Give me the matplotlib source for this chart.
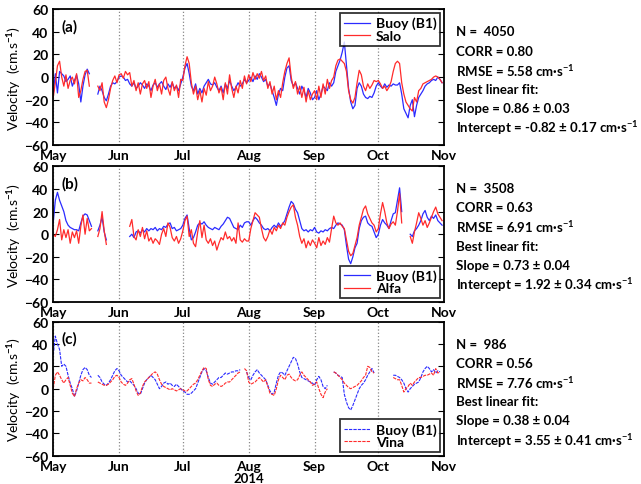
import numpy as np
import matplotlib
matplotlib.use("Agg")
import matplotlib.pyplot as plt
import matplotlib.dates as mdates

plt.rcParams['font.family'] = ['Lato', 'DejaVu Sans']
plt.rcParams['font.weight'] = 'bold'
plt.rcParams['mathtext.fontset'] = 'custom'
plt.rcParams['mathtext.rm'] = 'Lato:bold'
plt.rcParams['mathtext.it'] = 'Lato:bold'
plt.rcParams['mathtext.bf'] = 'Lato:bold'

n = np.nan

# daily velocities from 1 May to 1 Nov 2014 (cm/s), nan = no data
buoy_a = ([-15, 3, -14, 5, 3, 1, -4, -2, 1, -8, -3, 2, -6, -22, -8, 2, 7, 3]
          + [n, n, n]
          + [-15, -8, -12, -18, -21, -15, -8, -5, -6, -4, 0, 1, 0, -3, -2, -6, -8, -5, -10, -8,
             -5, -7, -10, -6, -8, -12, -7, -5, -9, -6, -4, -8, -11, -6, -9, -5, -10, -8, -12, -6]
          + [0, 8, 12, 3, -8, -12, -6, -15, -10, -14, -8, -5, -2, -6, -7, -5, -9, -12, -8, -14,
             -6, -10, -3, -8, -12, -9, -5, -8, -6, -2, -5]
          + [-3, 0, -4, 1, -2, 3, 0, -4, -2, -8, -6, -12, -18, -25, -15, -10, -12, 0, 8, 10,
             -3, -8, -5, -10, -15, -8, -12, -18, -10, -14, -20]
          + [-18, -12, -20, -15, -8, -10, -12, -5, -8, -5, 5, 10, 15, 22, 31, 10, -10, -22, -28, -25,
             -10, -5, -8, -15, -18, -19, -17, -18, -14, -8]
          + [-5, -8, -10, -6, -9, -7, -8, -6, -7, -7, -5, -15, -28, -32, -36, -25, -20, -35, -25, -18,
             -15, -12, -8, -6, -5, -3, -2, -3, 0, -2, -5])
salo = ([-18, -5, 10, 14, 0, -8, 2, -10, -3, 0, -6, 3, -18, -12, -2, 5, 6, -8]
        + [n, n, n]
        + [-8, -12, -5, -22, -27, -20, -10, -3, 1, -5, 2, 3, -1, 5, 2, 4, -8, -3, -12, -5,
           -15, -6, -3, -10, -4, -18, -8, -2, -12, -6, -15, -3, 0, -10, -16, -4, -12, -7, -18, -2]
        + [-3, 10, 18, 12, -5, -15, -8, -20, -12, -22, -10, -16, -4, -12, -8, 0, -6, -14, -9, -20,
           -5, -15, 2, -10, -18, -8, -14, -3, -10, 1, -6]
        + [2, -4, 4, -2, 3, -1, 5, -3, 1, -10, -4, -15, -8, -20, -12, -18, -5, 5, 12, 17,
           0, -10, -4, -15, -8, -18, -9, -22, -12, -20, -15]
        + [-12, -20, -8, -18, -6, -15, -2, -10, -3, 0, 10, 15, 16, 14, 12, 5, -12, -20, -23, -18,
           -5, 6, 2, -8, -12, -6, -10, -7, -3, -4]
        + [-3, -6, -10, -8, -12, -9, -4, 5, 12, 14, 12, -5, -15, -22, -25, -28, -30, -18, -22, -12,
           -10, -6, -5, -4, -3, -2, 0, 1, 0, -2, -5])

buoy_b = ([10, 30, 37, 30, 25, 20, 12, 8, 6, 5, 4, 4, 3, 10, 16, 18, 17, 12, 7]
          + [n, n]
          + [3, 8, 15, 2, -5]
          + [n] * 10
          + [-2, 0, -3, 2, 3, 1, 4, 2, 5, 3, 5, 4, 6, 3, 5, 4, 7, 6, 9, 10,
             5, 6, 3, 4, 5, 8, 14, 17, 5, -5, -3, 2, 8, 10, 9, 11, 8, 6, 5, 4,
             6, 5, 4, 7, 9, 12, 15, 14, 10, 6, 5, 4, 8, 6, 10, 11]
          + [11, 8, 12, 15, 13, 10, 8, 5, 4, 5, 3, 6, 8, 6, 10, 7, 9, 12, 18, 24,
             29, 27, 22, 19, 12, 5, 3, 4, 2, 4, 3, 6, 2, 1, 3, 2, 4, 3, 5, 6,
             5, 8, 10, 9, 8, 4, -10, -22, -26, -20, -12, -8, 5, 12, 15, 16, 10, 8, 7, 2,
             -3, 0, 8, 13, 10, 8, 5, 12, 18, 19, 30, 41, 20]
          + [n, n, n]
          + [0, -2, 3, 5, 8, 12, 18, 21, 15, 12, 16, 14, 17, 12, 10, 8])
alfa = ([0, -2, 4, 13, -5, 4, -3, 4, -8, 2, -3, 3, -8, 7, 17, 0, 14, 3, 5]
        + [n, n]
        + [-2, 5, 20, 3, -9]
        + [n] * 10
        + [7, 13, -2, -5, 4, -2, 6, -4, 3, -6, -3, -8, -4, -6, -9, 0, 5, -2, 10, 6,
           -3, -6, -2, -8, -4, 3, 12, 16, -2, 4, -8, -11, 2, 12, -3, 8, -5, -8, -4, -10,
           -6, -14, -8, -3, -5, 2, -4, -2, -6, -3, -8, 10, -5, -7, -4, -6]
        + [-6, 5, 12, 19, 17, 15, 5, -3, -6, -2, 4, 0, 6, 3, 8, 5, 10, 8, 15, 20,
           24, 26, 15, 8, -2, -8, -4, -12, -6, -10, -5, -8, -12, -3, -10, -6, -9, -3, -7, 5,
           16, 10, 8, 10, 7, 5, -5, -15, -19, -17, -10, -3, 8, 15, 22, 25, 18, 14, 10, 8,
           2, 5, 18, 28, 20, 10, 5, 9, 11, 8, 20, 36, 10]
        + [n, n, n]
        + [-2, -8, 2, 10, 19, 14, 8, 12, 6, 10, 15, 20, 24, 18, 15, 12])

buoy_c = ([30, 47, 40, 35, 20, 22, 20, 12, 5, 0, -7, -2, 5, 12, 17, 19, 17, 12, 10]
          + [n, n]
          + [12, 10, 6, 4, 3, 5, 8, 12, 16, 18, 16, 12, 10, 8, 6, 7, 5, 3, 0, -4,
             -5, 0, 5, 8, 10, 12, 10, 8, 4, 0, 2, 5, 6, 4, 5, 3, 2, 4, 2, 0,
             -2, -3, -5, -5, -4, -2, 0, 5, 10, 15, 18, 16, 10, 5, 4, 6, 8, 10, 10, 12,
             14, 13, 14, 15, 15, 16, 16, 17]
          + [n, n]
          + [15, 10, 8, 12, 15, 17, 14, 12, 10, 8, 3, -2, -5, -3, 5, 12, 15, 14, 12, 16,
             20, 24, 28, 27, 22, 15, 10, 9, 8, 7, 6, 5, 3, 8, 11, 8, 2, 0, 3]
          + [n, n]
          + [15, 14, 12, 11, 10, -5, -12, -17, -19, -15, -10, -5, 0, 3, 5, 8, 12, 15, 18, 14]
          + [n] * 8
          + [12, 12, 11, 10, 8, 5, 0, -3, 0, 2, 4, 5, 6, 10, 15, 18, 20, 18, 15, 17, 14, 16, 15]
          + [n])
vina = ([0, 12, 15, 12, 8, 5, 8, 10, 3, -4, -7, 0, 5, 8, 7, 10, 8, 5, 5]
        + [n, n]
        + [6, 5, 4, 3, 3, 4, 6, 8, 11, 12, 10, 6, 4, 3, 5, 8, 9, 4, -2, -6,
           -4, 2, 6, 8, 10, 12, 14, 15, 13, 8, 4, 2, 1, 0, -1, 0, -1, -2, -1, 0,
           -1, -2, -2, 0, 2, 4, 5, 8, 12, 16, 19, 18, 8, 3, 2, 4, 5, 3, 2, 3,
           5, 6, 6, 8, 10, 12, 14, 15]
        + [n, 18]
        + [16, 6, 4, 5, 6, 8, 10, 8, 6, 8, 2, -4, -5, -6, 0, 8, 12, 10, 8, 12,
           13, 10, 8, 7, 8, 12, 15, 12, 10, 8, 6, 3, 4, 6, 0, -5, -8, -3, 0]
        + [n, n]
        + [15, 14, 12, 10, 8, 5, 3, 1, 0, 1, 2, 3, 5, 7, 10, 12, 20, 19, 15, 14]
        + [n] * 8
        + [10, 9, 8, 8, 3, -3, 0, 2, 5, 3, 6, 8, 10, 10, 11, 12, 12, 13, 14, 12, 18, 14, 15]
        + [n])

model_names = ['Salo', 'Alfa', 'Vina']
panel_tags = ['(a)', '(b)', '(c)']
stats = [
    ['N =  4050', 'CORR = 0.80', 'RMSE = 5.58 cm·s$^{-1}$', 'Best linear fit:',
     'Slope = 0.86 ± 0.03', 'Intercept = -0.82 ± 0.17 cm·s$^{-1}$'],
    ['N =  3508', 'CORR = 0.63', 'RMSE = 6.91 cm·s$^{-1}$', 'Best linear fit:',
     'Slope = 0.73 ± 0.04', 'Intercept = 1.92 ± 0.34 cm·s$^{-1}$'],
    ['N =  986', 'CORR = 0.56', 'RMSE = 7.76 cm·s$^{-1}$', 'Best linear fit:',
     'Slope = 0.38 ± 0.04', 'Intercept = 3.55 ± 0.41 cm·s$^{-1}$'],
]

dates = np.datetime64('2014-05-01') + np.arange(184)
buoys = [buoy_a, buoy_b, buoy_c]
models = [salo, alfa, vina]

fig = plt.figure(figsize=(6.41, 4.85), dpi=100)
# axes boxes in figure fractions [left, bottom, width, height]
boxes = [[0.083, 0.699, 0.610, 0.280],
         [0.083, 0.375, 0.610, 0.280],
         [0.083, 0.058, 0.610, 0.277]]
legend_loc = ['upper right', 'lower right', 'lower right']
text_top = [0.933, 0.610, 0.289]

for i in range(3):
    ax = fig.add_axes(boxes[i])
    ls = '-' if i < 2 else (0, (3, 1))
    lw = 0.9 if i < 2 else 0.8
    ax.plot(dates, np.array(buoys[i], float), color='#2b2bff', lw=lw, ls=ls, label='Buoy (B1)')
    ax.plot(dates, np.array(models[i], float), color='#ff2b2b', lw=lw, ls=ls, label=model_names[i])
    ax.set_xlim(np.datetime64('2014-05-01'), np.datetime64('2014-11-01'))
    ax.set_ylim(-60, 60)
    ax.set_yticks(range(-60, 61, 20))
    ax.xaxis.set_major_locator(mdates.MonthLocator())
    ax.xaxis.set_major_formatter(mdates.DateFormatter('%b'))
    ax.grid(axis='x', color='#888888', ls=':', lw=0.9)
    ax.tick_params(axis='y', direction='in', right=True, length=4, labelsize=10)
    ax.tick_params(axis='x', length=0, labelsize=10, pad=3)
    for s in ax.spines.values():
        s.set_linewidth(1.3)
    ax.set_ylabel('Velocity  (cm.s$^{-1}$)', fontsize=10, labelpad=1)
    ax.text(0.02, 0.93, panel_tags[i], transform=ax.transAxes, fontsize=11, va='top')
    leg = ax.legend(loc=legend_loc[i], fontsize=10, frameon=True, fancybox=False,
                    handlelength=1.9, borderpad=0.25, labelspacing=0.05, handletextpad=0.4,
                    borderaxespad=0.3)
    leg.get_frame().set_edgecolor('black')
    leg.get_frame().set_linewidth(1.3)
    for k, line in enumerate(stats[i]):
        fig.text(0.712, text_top[i] - k * 0.0395, line, fontsize=9.5, va='center')
    if i == 2:
        ax.annotate('2014', xy=(np.datetime64('2014-08-01'), -0.118),
                    xycoords=('data', 'axes fraction'), ha='center', va='top', fontsize=9.5)

fig.savefig('out.png', dpi=100)
